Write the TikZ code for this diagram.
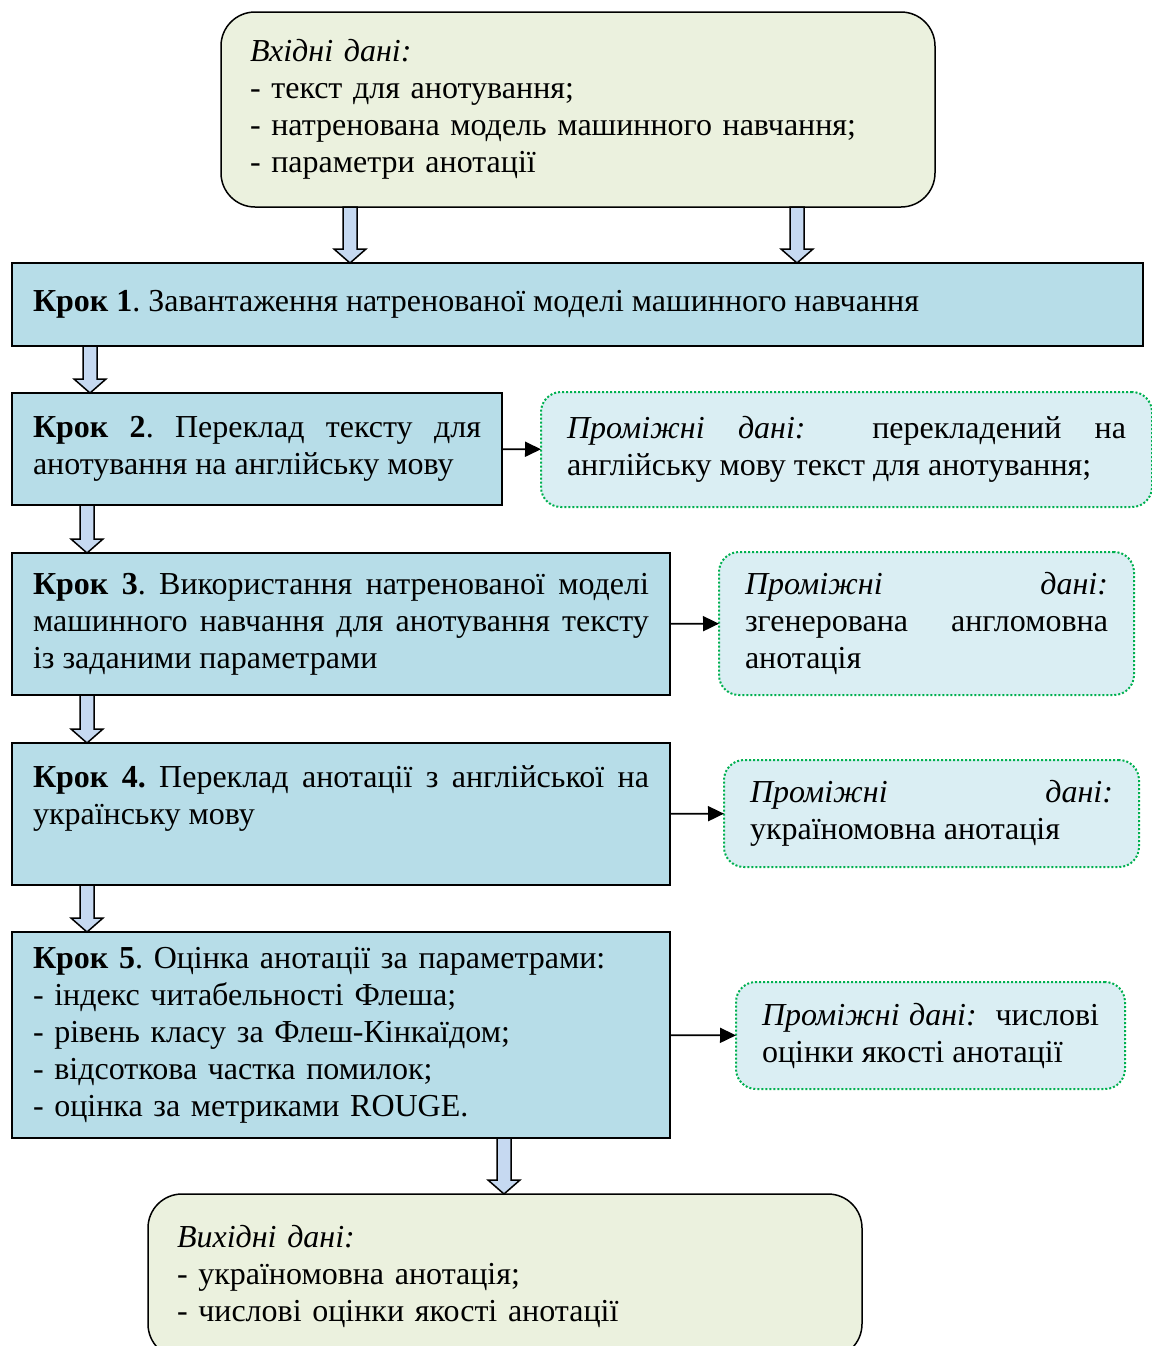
\documentclass[tikz,border=0pt]{standalone}
\usepackage{fontspec}
\setmainfont{Liberation Serif}
\usetikzlibrary{arrows.meta,calc}
\definecolor{datafill}{HTML}{EBF1DE}
\definecolor{krokfill}{HTML}{B7DDE8}
\definecolor{interfill}{HTML}{DAEEF3}
\definecolor{interline}{HTML}{00B050}
\definecolor{fatfill}{HTML}{C6D9F1}
\newcommand{\fatarrow}[2]{\draw[fat] let \p1=#1, \p2=#2 in
  (\x1-3.5pt,\y1) -- (\x1-3.5pt,\y2+7pt) -- (\x1-8pt,\y2+7pt) -- (\x1,\y2)
  -- (\x1+8pt,\y2+7pt) -- (\x1+3.5pt,\y2+7pt) -- (\x1+3.5pt,\y1) -- cycle;}
\begin{document}
\hyphenpenalty=10000
\frenchspacing
\begin{tikzpicture}[x=0.5pt, y=-0.5pt, font=\fontsize{16pt}{18.5pt}\selectfont,
  data/.style = {draw, line width=0.75pt, fill=datafill, rounded corners=17pt, anchor=north west, align=left, inner xsep=14.5pt, outer sep=0pt, text width=328pt},
  krok/.style = {draw, line width=1pt, fill=krokfill, anchor=north west, align=justify, inner xsep=10.5pt, inner ysep=0pt, outer sep=0pt},
  inter/.style = {draw=interline, densely dotted, line width=1pt, fill=interfill, rounded corners=10pt, anchor=north west, align=justify, inner xsep=13pt, inner ysep=0pt, outer sep=0pt},
  fat/.style = {draw, line width=0.75pt, fill=fatfill},
  link/.style = {-{Triangle[length=8pt,width=7.5pt]}, line width=0.9pt}]
\useasboundingbox (0,0) rectangle (1152,1346);
\node[data, minimum height=97.5pt] (in) at (221,12) {\textit{Вхідні дані:}\\- текст для анотування;\\- натренована модель машинного навчання;\\- параметри анотації};
\node[krok, text width=544.5pt, minimum height=41.5pt] (s1) at (12,263) {\textbf{Крок 1}. Завантаження натренованої моделі машинного навчання};
\node[krok, text width=224pt, minimum height=56pt] (s2) at (12,393) {\textbf{Крок 2}. Переклад тексту для\linebreak анотування на англійську мову};
\node[inter, text width=279.5pt, minimum height=57.5pt] (m1) at (541,392) {\textit{Проміжні дані:}\ \ перекладений на\linebreak англійську мову текст для анотування;};
\node[krok, text width=308pt, minimum height=71pt] (s3) at (12,553) {\textbf{Крок 3}. Використання натренованої моделі\linebreak машинного навчання для анотування тексту\linebreak із заданими параметрами};
\node[inter, text width=181.5pt, minimum height=71.5pt] (m2) at (719,552) {\textit{Проміжні дані:}\linebreak згенерована англомовна\linebreak анотація};
\node[krok, text width=308pt, minimum height=71pt] (s4) at (12,743) {\textbf{Крок 4.} Переклад анотації з англійської на\linebreak українську мову\\ \mbox{}};
\node[inter, text width=181.5pt, minimum height=53.5pt] (m3) at (724,760) {\textit{Проміжні дані:}\linebreak україномовна анотація};
\node[krok, text width=308pt, minimum height=103pt, align=left] (s5) at (12,932) {\textbf{Крок 5}. Оцінка анотації за параметрами:\\- індекс читабельності Флеша;\\- рівень класу за Флеш-Кінкаїдом;\\- відсоткова частка помилок;\\- оцінка за метриками ROUGE.};
\node[inter, text width=168.5pt, minimum height=53.5pt] (m4) at (736,982) {\textit{Проміжні дані:}\ \ числові\linebreak оцінки якості анотації};
\node[data, minimum height=82pt] (out) at (148,1194) {\textit{Вихідні дані:}\\- україномовна анотація;\\- числові оцінки якості анотації};
% positions of the wide arrows
\coordinate (a1) at (350,0);
\coordinate (a2) at (797,0);
\coordinate (a3) at (90,0);
\coordinate (a4) at (87,0);
\coordinate (a5) at (504,0);
\fatarrow{(in.south -| a1)}{(s1.north -| a1)}
\fatarrow{(in.south -| a2)}{(s1.north -| a2)}
\fatarrow{(s1.south -| a3)}{(s2.north -| a3)}
\fatarrow{(s2.south -| a4)}{(s3.north -| a4)}
\fatarrow{(s3.south -| a4)}{(s4.north -| a4)}
\fatarrow{(s4.south -| a4)}{(s5.north -| a4)}
\fatarrow{(s5.south -| a5)}{(out.north -| a5)}
\draw[link] (s2) -- (m1);
\draw[link] (s3) -- (m2);
\draw[link] (s4) -- (m3);
\draw[link] (s5) -- (m4);
\end{tikzpicture}
\end{document}
